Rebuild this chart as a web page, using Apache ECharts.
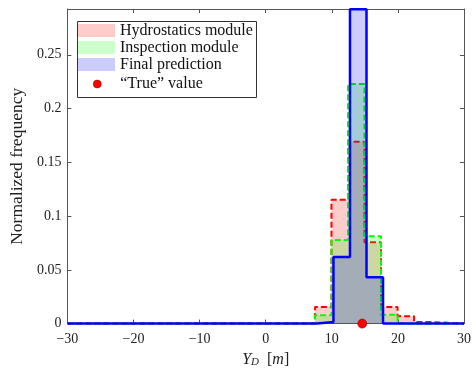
<!DOCTYPE html>
<html>
<head>
<meta charset="utf-8">
<script src="https://cdn.jsdelivr.net/npm/echarts@6/dist/echarts.min.js"></script>
<style>
html,body{margin:0;padding:0;background:#fff;}
#chart{width:474px;height:373px;}
</style>
</head>
<body>
<div id="chart"></div>
<script>
// ---- data ----
const seriesNames = ["Hydrostatics module", "Inspection module", "Final prediction", "\u201cTrue\u201d value"];
const hydroEdges = [7.45, 9.95, 12.45, 14.95, 17.45, 19.95, 22.45, 24.95];
const hydroValues = [0.0154, 0.1151, 0.1691, 0.0756, 0.0154, 0.0068, 0.0015];
const inspEdges = [7.45, 9.95, 12.45, 14.95, 17.45, 19.95];
const inspValues = [0.0077, 0.0778, 0.2228, 0.0812, 0.0083];
const finalEdges = [7.75, 10.25, 12.75, 15.25, 17.75];
const finalValues = [0.0015, 0.062, 0.2923, 0.0432];
const trueValue = [14.6, 0];
const xTicks = [-30, -20, -10, 0, 10, 20, 30];
const yTicks = [0, 0.05, 0.1, 0.15, 0.2, 0.25];
const xRange = [-30, 30];
const yMax = 0.2926;

function stepData(edges, values) {
  const pts = [[xRange[0], 0]];
  for (let i = 0; i < values.length; i++) pts.push([edges[i], values[i]]);
  pts.push([edges[edges.length - 1], 0]);
  pts.push([xRange[1], 0]);
  return pts;
}

const FONT = "Liberation Serif";
const axisColor = "#555";

const chart = echarts.init(document.getElementById('chart'), null, {renderer: 'canvas'});

function histSeries(name, edges, values, color, dashed, width, z) {
  return {
    name: name,
    type: 'line',
    step: 'end',
    symbol: 'none',
    data: stepData(edges, values),
    lineStyle: {color: color, width: width, type: dashed ? [6, 3] : 'solid'},
    areaStyle: {color: color, opacity: 0.2, origin: 'start'},
    itemStyle: {color: color},
    z: z,
    animation: false,
    clip: false
  };
}

const boxAxis = {
  axisLine: {show: true, onZero: false, lineStyle: {color: axisColor, width: 1}},
  axisTick: {show: true, inside: true, length: 4, lineStyle: {color: axisColor}},
  axisLabel: {show: false}, splitLine: {show: false}
};

const option = {
  animation: false,
  grid: {left: 66, right: 8, top: 9, bottom: 48, containLabel: false},
  xAxis: [{
    type: 'value', min: xRange[0], max: xRange[1], interval: 10,
    axisLine: {show: true, onZero: false, lineStyle: {color: axisColor, width: 1}},
    axisTick: {show: true, inside: true, length: 4, lineStyle: {color: axisColor}},
    splitLine: {show: false},
    axisLabel: {
      fontFamily: FONT, fontSize: 14, color: '#222', margin: 9,
      formatter: v => xTicks.indexOf(v) >= 0 ? String(v).replace('-', '\u2212') : ''
    },
    name: '{i|Y}{sub|D}  [{i|m}]',
    nameLocation: 'middle', nameGap: 27,
    nameTextStyle: {
      fontFamily: FONT, fontSize: 16, color: '#222',
      rich: {
        i: {fontFamily: FONT, fontStyle: 'italic', fontSize: 16, color: '#222'},
        sub: {fontFamily: FONT, fontStyle: 'italic', fontSize: 11, color: '#222', verticalAlign: 'bottom', padding: [6, 0, 0, 0]}
      }
    }
  }, Object.assign({type: 'value', position: 'top', min: xRange[0], max: xRange[1], interval: 10}, boxAxis)],
  yAxis: [{
    type: 'value', min: 0, max: yMax, interval: 0.05,
    axisLine: {show: true, onZero: false, lineStyle: {color: axisColor, width: 1}},
    axisTick: {show: true, inside: true, length: 4, lineStyle: {color: axisColor}},
    splitLine: {show: false},
    axisLabel: {
      fontFamily: FONT, fontSize: 14, color: '#222', margin: 6,
      showMaxLabel: false,
      formatter: v => {
        const r = Math.round(v * 100) / 100;
        return yTicks.some(t => Math.abs(t - v) < 1e-9) ? String(r) : '';
      }
    },
    name: 'Normalized frequency',
    nameLocation: 'middle', nameGap: 39,
    nameTextStyle: {fontFamily: FONT, fontSize: 17.5, color: '#222'}
  }, Object.assign({type: 'value', position: 'right', min: 0, max: yMax, interval: 0.05}, boxAxis)],
  legend: [{
    orient: 'vertical', left: 77, top: 22, padding: 0,
    itemWidth: 38, itemHeight: 13, itemGap: 0,
    selectedMode: false,
    textStyle: {fontFamily: FONT, fontSize: 16, color: '#111', lineHeight: 17},
    data: [
      {name: seriesNames[0], icon: 'rect', itemStyle: {color: '#ffcccc', borderWidth: 0}},
      {name: seriesNames[1], icon: 'rect', itemStyle: {color: '#ccffcc', borderWidth: 0}},
      {name: seriesNames[2], icon: 'rect', itemStyle: {color: '#ccccff', borderWidth: 0}}
    ]
  }, {
    orient: 'vertical', left: 93, top: 75, padding: 0,
    itemWidth: 8, itemHeight: 8,
    selectedMode: false,
    textStyle: {fontFamily: FONT, fontSize: 16, color: '#111', lineHeight: 18, padding: [0, 0, 0, 14]},
    data: [{name: seriesNames[3], icon: 'circle', itemStyle: {color: '#ff0000', borderColor: '#800000', borderWidth: 0.5}}]
  }],
  graphic: [{
    type: 'rect', left: 75, top: 19, z: 100, silent: true,
    shape: {width: 179, height: 76},
    style: {fill: 'none', stroke: '#333', lineWidth: 1}
  }],
  series: [
    histSeries(seriesNames[0], hydroEdges, hydroValues, '#ff0000', true, 2, 2),
    histSeries(seriesNames[1], inspEdges, inspValues, '#00ff00', true, 2, 3),
    histSeries(seriesNames[2], finalEdges, finalValues, '#0000ff', false, 2.5, 4),
    {
      name: seriesNames[3], type: 'scatter', data: [trueValue],
      symbol: 'circle', symbolSize: 9, clip: false, z: 10,
      itemStyle: {color: '#ff0000', borderColor: '#800000', borderWidth: 0.6, opacity: 1}
    }
  ]
};
chart.setOption(option);
</script>
</body>
</html>
